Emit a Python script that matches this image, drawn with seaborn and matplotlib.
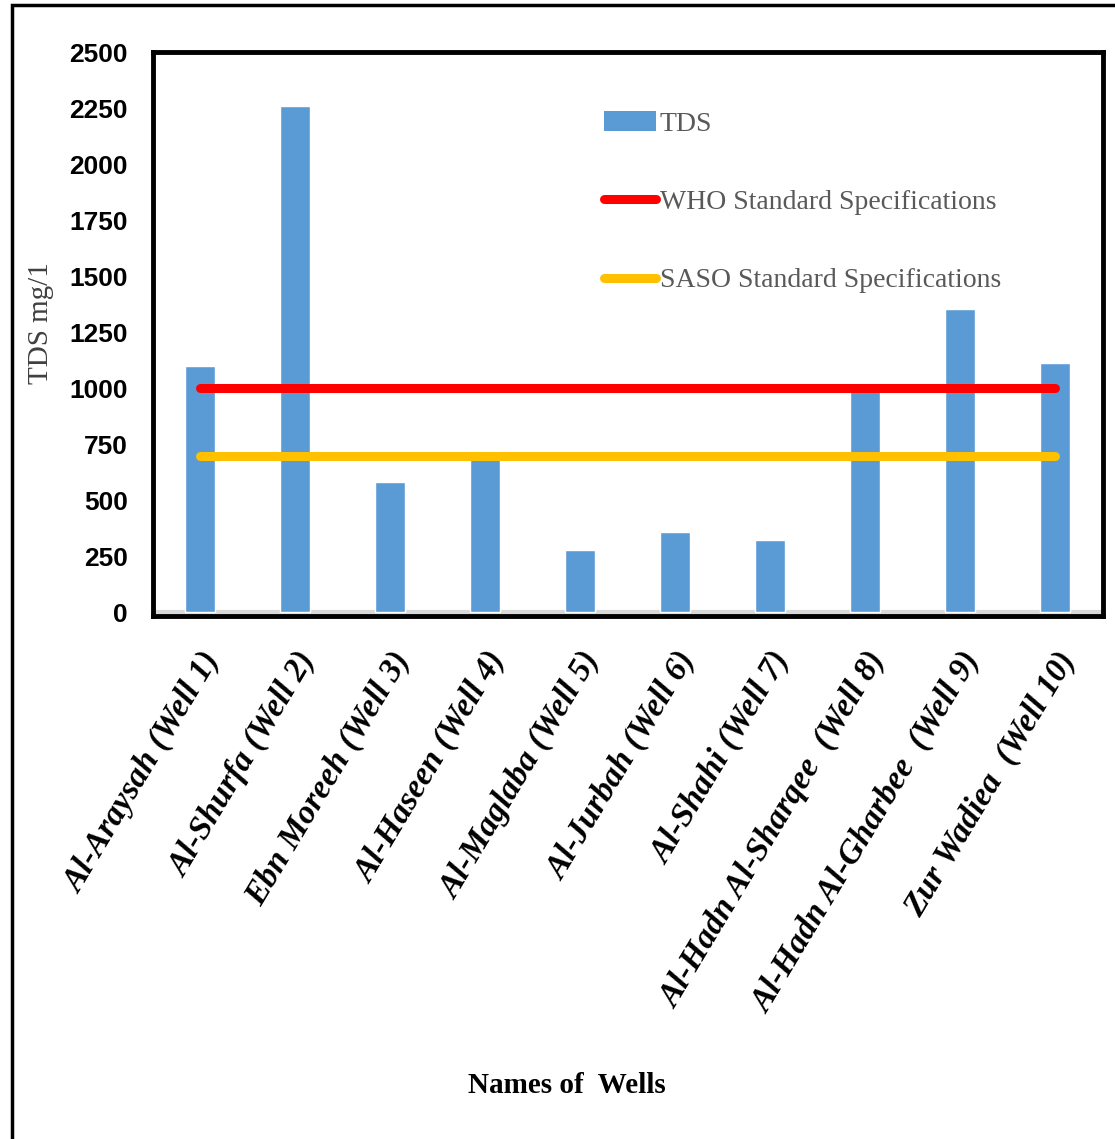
import matplotlib
matplotlib.use("Agg")
import matplotlib.pyplot as plt
from matplotlib.patches import Patch, Rectangle
from matplotlib.lines import Line2D
import numpy as np
import pandas as pd
import seaborn as sns

# Well names and measured total dissolved solids (mg/l)
wells = [
    "Al-Araysah (Well 1)",
    "Al-Shurfa (Well 2)",
    "Ebn Moreeh (Well 3)",
    "Al-Haseen (Well 4)",
    "Al-Maglaba (Well 5)",
    "Al-Jurbah (Well 6)",
    "Al-Shahi (Well 7)",
    "Al-Hadn Al-Sharqee  (Well 8)",
    "Al-Hadn Al-Gharbee  (Well 9)",
    "Zur Wadiea  (Well 10)",
]
tds = [1100, 2260, 580, 690, 280, 360, 325, 990, 1355, 1115]

# Drinking-water limits
who_limit = [1000] * 10
saso_limit = [700] * 10

yticks = [0, 250, 500, 750, 1000, 1250, 1500, 1750, 2000, 2250, 2500]

sns.set_theme(style="white")
plt.rcParams["font.family"] = ["Liberation Serif", "DejaVu Serif"]
plt.rcParams["text.color"] = "black"
plt.rcParams["xtick.color"] = "black"
plt.rcParams["ytick.color"] = "black"
plt.rcParams["xtick.labelcolor"] = "black"
plt.rcParams["ytick.labelcolor"] = "black"

NUM_FONT = ["Liberation Sans Narrow", "Liberation Sans", "DejaVu Sans"]

fig = plt.figure(figsize=(11.15, 11.39), dpi=100)
ax = fig.add_axes([0.137, 0.459, 0.852, 0.495])

df = pd.DataFrame({"well": wells, "tds": tds})
sns.barplot(data=df, x="well", y="tds", color="#5B9BD5", saturation=1,
            width=0.32, ax=ax, zorder=2)

x = np.arange(len(wells))
ax.plot(x, who_limit, color="#FF0000", lw=6.5, solid_capstyle="round", zorder=3)
ax.plot(x, saso_limit, color="#FFC000", lw=6.5, solid_capstyle="round", zorder=3)

ax.axhline(0, color="#D9D9D9", lw=3, zorder=1)

ax.set_xlim(-0.5, 9.5)
ax.set_ylim(-17, 2500)
ax.set_yticks(yticks)
ax.set_yticklabels([str(v) for v in yticks], family=NUM_FONT,
                   fontweight="bold", fontsize=19, color="black")
ax.tick_params(axis="y", length=0, pad=18)
ax.tick_params(axis="x", length=0, pad=22)
ax.set_xticks(x)
ax.set_xticklabels(wells, rotation=59, ha="right", rotation_mode="anchor",
                   fontweight="bold", fontstyle="italic", fontsize=24,
                   color="black")

for s in ax.spines.values():
    s.set_visible(True)
    s.set_color("black")
    s.set_linewidth(3.5)

ax.set_xlabel("")
ax.set_ylabel("TDS mg/1", fontsize=21, color="#404040")
ax.yaxis.set_label_coords(-0.104, 0.52)
fig.text(0.508, 0.047, "Names of  Wells", ha="center", va="center",
         fontsize=21, fontweight="bold", color="black")

handles = [
    Patch(facecolor="#5B9BD5", edgecolor="none"),
    Line2D([0], [0], color="#FF0000", lw=6.5, solid_capstyle="round"),
    Line2D([0], [0], color="#FFC000", lw=6.5, solid_capstyle="round"),
]
labels = ["TDS", "WHO Standard Specifications", "SASO Standard Specifications"]
leg = ax.legend(handles, labels, loc="upper left",
                bbox_to_anchor=(0.46, 0.92), frameon=False,
                fontsize=20, labelspacing=1.9, handlelength=1.9,
                handletextpad=0.12, borderpad=0)
for t in leg.get_texts():
    t.set_color("#595959")

# Outer frame around the chart
fig.patches.append(Rectangle((12 / 1115, -0.05), 1.2, 1 - 5 / 1139 + 0.05,
                             transform=fig.transFigure, fill=False,
                             edgecolor="black", lw=2.5, zorder=0))

fig.savefig("out.png", dpi=100, facecolor="white")
